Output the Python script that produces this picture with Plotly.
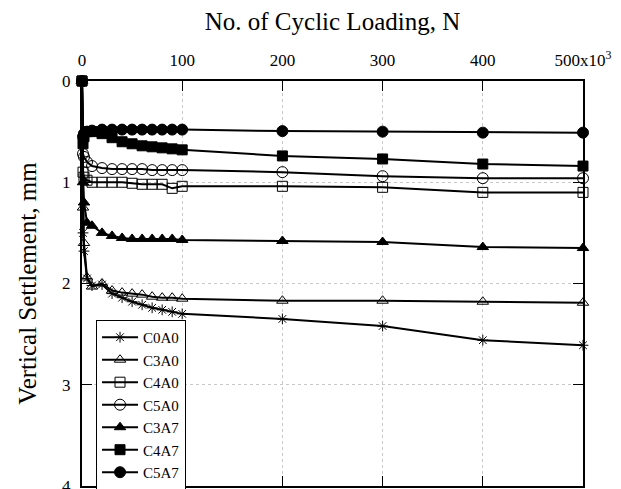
import plotly.graph_objects as go

# N in thousands of cycles
N = [0, 1, 2, 5, 10, 20, 30, 40, 50, 60, 70, 80, 90, 100, 200, 300, 400, 500]

C0A0 = [0, 1.50, 1.68, 1.95, 2.02, 2.01, 2.10, 2.14, 2.18, 2.21, 2.24, 2.26, 2.28, 2.30, 2.35, 2.42, 2.56, 2.61]
C3A0 = [0, 1.25, 1.60, 1.94, 2.03, 2.00, 2.07, 2.09, 2.10, 2.11, 2.13, 2.14, 2.14, 2.15, 2.17, 2.17, 2.18, 2.19]
C4A0 = [0, 0.90, 0.95, 0.98, 1.00, 1.00, 1.00, 1.00, 1.01, 1.02, 1.02, 1.02, 1.06, 1.04, 1.04, 1.05, 1.10, 1.10]
C5A0 = [0, 0.72, 0.75, 0.80, 0.84, 0.86, 0.87, 0.87, 0.87, 0.87, 0.88, 0.88, 0.88, 0.88, 0.90, 0.94, 0.96, 0.96]
C3A7 = [0, 1.00, 1.20, 1.40, 1.43, 1.50, 1.53, 1.55, 1.56, 1.56, 1.56, 1.56, 1.56, 1.57, 1.58, 1.59, 1.64, 1.65]
C4A7 = [0, 0.62, 0.55, 0.50, 0.50, 0.52, 0.56, 0.60, 0.62, 0.64, 0.65, 0.66, 0.67, 0.68, 0.74, 0.77, 0.82, 0.84]
C5A7 = [0, 0.55, 0.52, 0.50, 0.49, 0.48, 0.48, 0.48, 0.48, 0.48, 0.48, 0.48, 0.48, 0.48, 0.495, 0.50, 0.51, 0.51]

x_ticks = [0, 100, 200, 300, 400, 500]
x_ticktext = ["0", "100", "200", "300", "400", "500x10<sup>3</sup>"]
y_ticks = [0, 1, 2, 3, 4]

series = [
    ("C0A0", C0A0, "asterisk-open", 9, 1),
    ("C3A0", C3A0, "triangle-up-open", 10, 2),
    ("C4A0", C4A0, "square-open", 10, 3),
    ("C5A0", C5A0, "circle-open", 11, 4),
    ("C3A7", C3A7, "triangle-up", 10, 5),
    ("C5A7", C5A7, "circle", 11, 7),
    ("C4A7", C4A7, "square", 10, 6),
]

fig = go.Figure()
for name, ys, sym, size, rank in series:
    fig.add_trace(go.Scatter(
        x=N, y=ys, name=name, mode="lines+markers",
        line=dict(color="black", width=2),
        marker=dict(symbol=sym, size=size, color="black",
                    line=dict(color="black", width=1)),
        cliponaxis=False, legendrank=rank,
    ))

font_family = "Liberation Serif, Times New Roman, serif"
fig.update_layout(
    width=621, height=489,
    margin=dict(l=82, r=38, t=81, b=3, autoexpand=False),
    plot_bgcolor="white", paper_bgcolor="white",
    font=dict(family=font_family, color="black", size=17),
    showlegend=True,
    legend=dict(x=0.028, y=0.41, xanchor="left", yanchor="top",
                bgcolor="white", bordercolor="black", borderwidth=1,
                font=dict(family=font_family, size=15), tracegroupgap=0,
                itemwidth=36),
    xaxis=dict(
        side="top", range=[0, 500], tickvals=x_ticks, ticktext=x_ticktext,
        ticks="inside", ticklen=10, tickwidth=1, tickcolor="black",
        ticklabelstandoff=6, automargin=False, ticklabeloverflow="allow",
        showline=True, linecolor="black", linewidth=2, mirror="ticks",
        showgrid=True, gridcolor="#c8c8c8", griddash="dot", gridwidth=1,
        zeroline=False,
        title=dict(text="No. of Cyclic Loading, N", font=dict(size=25), standoff=10),
        tickfont=dict(size=17),
    ),
    yaxis=dict(
        range=[4, 0], tickvals=y_ticks,
        ticks="inside", ticklen=10, tickwidth=1, tickcolor="black",
        ticklabelstandoff=6, automargin=False, ticklabeloverflow="allow",
        showline=True, linecolor="black", linewidth=2, mirror="ticks",
        showgrid=True, gridcolor="#c8c8c8", griddash="dot", gridwidth=1,
        zeroline=False,
        title=dict(text="Vertical Settlement, mm", font=dict(size=25), standoff=18),
        tickfont=dict(size=17),
    ),
)

fig.write_html("out.html")
